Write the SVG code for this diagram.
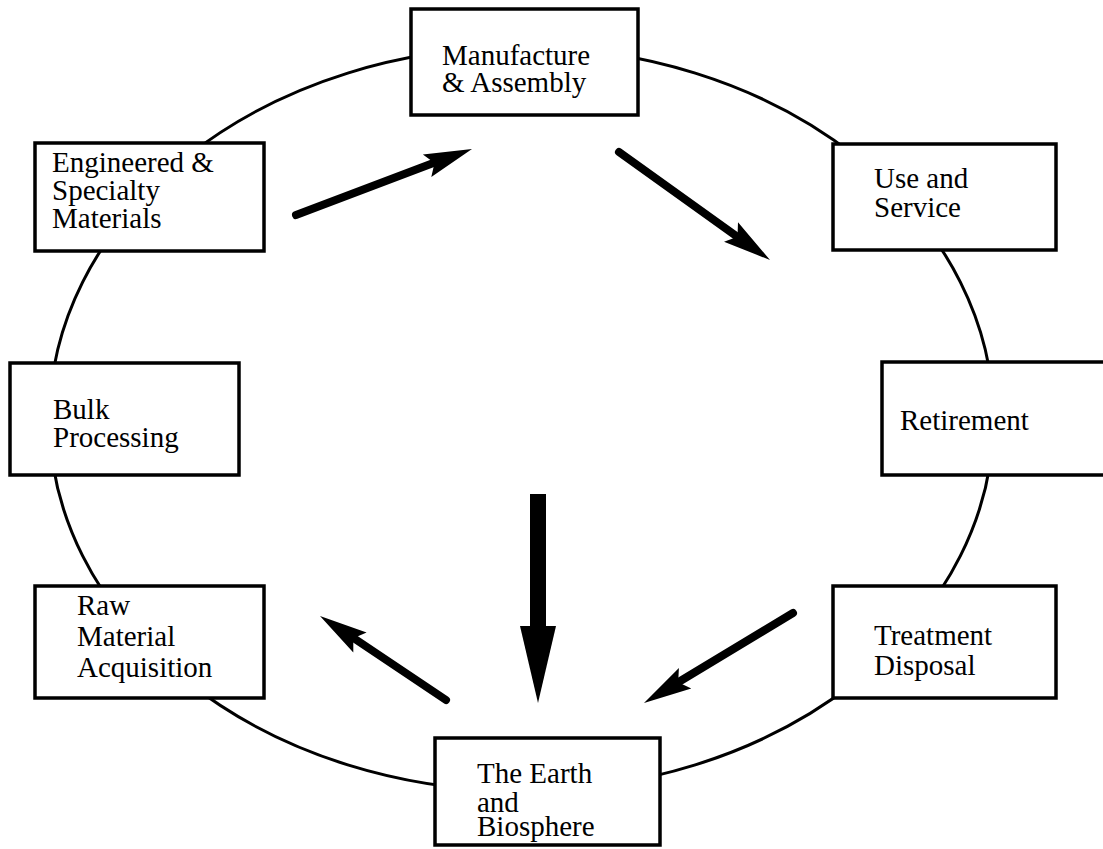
<svg xmlns="http://www.w3.org/2000/svg" width="1103" height="849" viewBox="0 0 1103 849">
<style>
.box{fill:#fff;stroke:#000;stroke-width:3.5}
text{font-family:'Liberation Serif','Times New Roman','DejaVu Serif',serif;font-size:29px;fill:#000}
.ring{fill:none;stroke:#000;stroke-width:3}
.shaft{stroke:#000;stroke-width:8;stroke-linecap:round;fill:none}
.head{fill:#000;stroke:none}
</style>
<rect width="1103" height="849" fill="#fff"/>
<ellipse class="ring" cx="521.5" cy="419" rx="472" ry="372"/>
<g id="connectors">
  <g id="arrow-eng-man">
    <line class="shaft" x1="296" y1="215" x2="436" y2="162"/>
    <polygon class="head" points="472,149 422.9,154.6 434.5,163 431.3,177.1"/>
  </g>
  <g id="arrow-man-use">
    <line class="shaft" x1="619" y1="152" x2="739" y2="238"/>
    <polygon class="head" points="770,260 738,222.3 737.5,236.7 724,241.8"/>
  </g>
  <g id="arrow-treat-earth">
    <line class="shaft" x1="793" y1="613" x2="677" y2="683"/>
    <polygon class="head" points="644,703 678.9,667.9 678.2,682.3 691.3,688.5"/>
  </g>
  <g id="arrow-earth-raw">
    <line class="shaft" x1="446" y1="700" x2="352" y2="637"/>
    <polygon class="head" points="320,616 366.6,632.6 353.3,638.2 353.3,652.6"/>
  </g>
  <g id="arrow-center-earth">
    <rect x="530" y="494" width="16" height="136" fill="#000"/>
    <polygon class="head" points="520,626 556,626 538,703"/>
  </g>
</g>
<g id="node-manufacture">
  <rect class="box" x="411" y="9" width="227" height="106"/>
  <text x="442" y="65" font-family="Liberation Serif, serif">Manufacture</text>
  <text x="442" y="92" font-family="Liberation Serif, serif">&amp; Assembly</text>
</g>
<g id="node-engineered">
  <rect class="box" x="35" y="143" width="229" height="108"/>
  <text x="52" y="172" font-family="Liberation Serif, serif">Engineered &amp;</text>
  <text x="52" y="200" font-family="Liberation Serif, serif">Specialty</text>
  <text x="52" y="228" font-family="Liberation Serif, serif">Materials</text>
</g>
<g id="node-use">
  <rect class="box" x="833" y="144" width="223" height="106"/>
  <text x="874" y="188" font-family="Liberation Serif, serif">Use and</text>
  <text x="874" y="217" font-family="Liberation Serif, serif">Service</text>
</g>
<g id="node-bulk">
  <rect class="box" x="10" y="363" width="229" height="112"/>
  <text x="53" y="419" font-family="Liberation Serif, serif">Bulk</text>
  <text x="53" y="447" font-family="Liberation Serif, serif">Processing</text>
</g>
<g id="node-retirement">
  <rect class="box" x="882" y="362" width="240" height="113"/>
  <text x="900" y="430" font-family="Liberation Serif, serif">Retirement</text>
</g>
<g id="node-raw">
  <rect class="box" x="35" y="586" width="229" height="112"/>
  <text x="77" y="615" font-family="Liberation Serif, serif">Raw</text>
  <text x="77" y="646" font-family="Liberation Serif, serif">Material</text>
  <text x="77" y="677" font-family="Liberation Serif, serif">Acquisition</text>
</g>
<g id="node-treatment">
  <rect class="box" x="833" y="586" width="223" height="112"/>
  <text x="874" y="645" font-family="Liberation Serif, serif">Treatment</text>
  <text x="874" y="675" font-family="Liberation Serif, serif">Disposal</text>
</g>
<g id="node-earth">
  <rect class="box" x="435" y="738" width="225" height="107"/>
  <text x="477" y="783" font-family="Liberation Serif, serif">The Earth</text>
  <text x="477" y="812" font-family="Liberation Serif, serif">and</text>
  <text x="477" y="836" font-family="Liberation Serif, serif">Biosphere</text>
</g>
</svg>
